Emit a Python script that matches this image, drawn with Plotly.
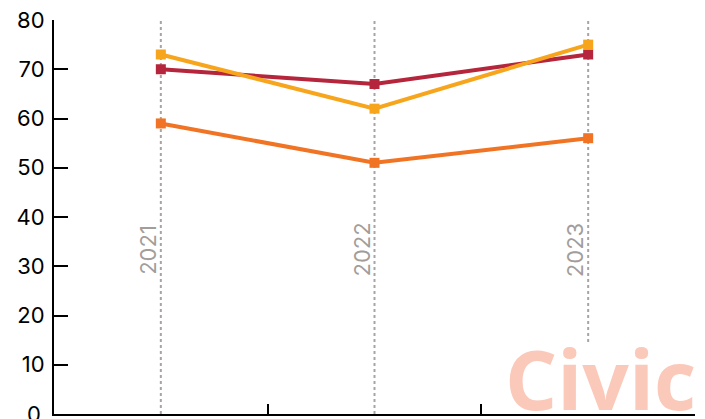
import plotly.graph_objects as go

years = ["2021", "2022", "2023"]
series_yellow = [73, 62, 75]
series_red = [70, 67, 73]
series_orange = [59, 51, 56]
y_ticks = [0, 10, 20, 30, 40, 50, 60, 70, 80]

colors = {"yellow": "#F7A51C", "red": "#B5253B", "orange": "#F07424"}
guide_bottoms = [0, 0, 14.6]  # last guide is hidden behind the watermark

fig = go.Figure()
for vals, col in [(series_orange, colors["orange"]), (series_red, colors["red"]), (series_yellow, colors["yellow"])]:
    fig.add_trace(go.Scatter(x=years, y=vals, mode="lines+markers",
                             line=dict(color=col, width=4),
                             marker=dict(symbol="square", size=10, color=col),
                             showlegend=False, hoverinfo="skip"))

for i, yr in enumerate(years):
    fig.add_shape(type="line", xref="x", yref="y", x0=i, x1=i, y0=guide_bottoms[i], y1=80,
                  line=dict(color="#a8a4a3", width=2, dash="dot"), layer="below")
    fig.add_annotation(x=i, y=33.3, xref="x", yref="y", text=yr, textangle=-90,
                       showarrow=False, xshift=-13,
                       font=dict(family="Inter, Roboto, sans-serif", size=22, color="#a39d9a"))

fig.add_annotation(xref="paper", yref="paper", x=1.0, y=0.0, xanchor="right", yanchor="bottom",
                   text="<b>Civic</b>", showarrow=False,
                   borderpad=0, yshift=-21, xshift=2,
                   font=dict(family="Open Sans, sans-serif", size=82, color="#FBC9B9"))

fig.add_annotation(xref="paper", yref="y", x=0, y=0, xanchor="right", yanchor="middle",
                   text="0", showarrow=False, xshift=-11,
                   font=dict(family="Inter, Roboto, sans-serif", size=22, color="black"))

fig.update_layout(
    width=705, height=419, margin=dict(l=54, r=10, t=20, b=5),
    plot_bgcolor="white", paper_bgcolor="white",
    xaxis=dict(type="category", range=[-0.5, 2.5], showticklabels=False,
               ticks="inside", ticklen=10, tickwidth=2, tickcolor="black",
               tickson="boundaries", showline=True, linecolor="black", linewidth=2,
               showgrid=False, zeroline=False),
    yaxis=dict(range=[0, 80], tickvals=y_ticks, ticks="inside", ticklen=14, tickwidth=2,
               tickcolor="black", showline=True, linecolor="black", linewidth=2,
               showgrid=False, zeroline=False, ticklabelstandoff=3,
               tickfont=dict(family="Inter, Roboto, sans-serif", size=22, color="black")),
)

fig.write_html("out.html")
